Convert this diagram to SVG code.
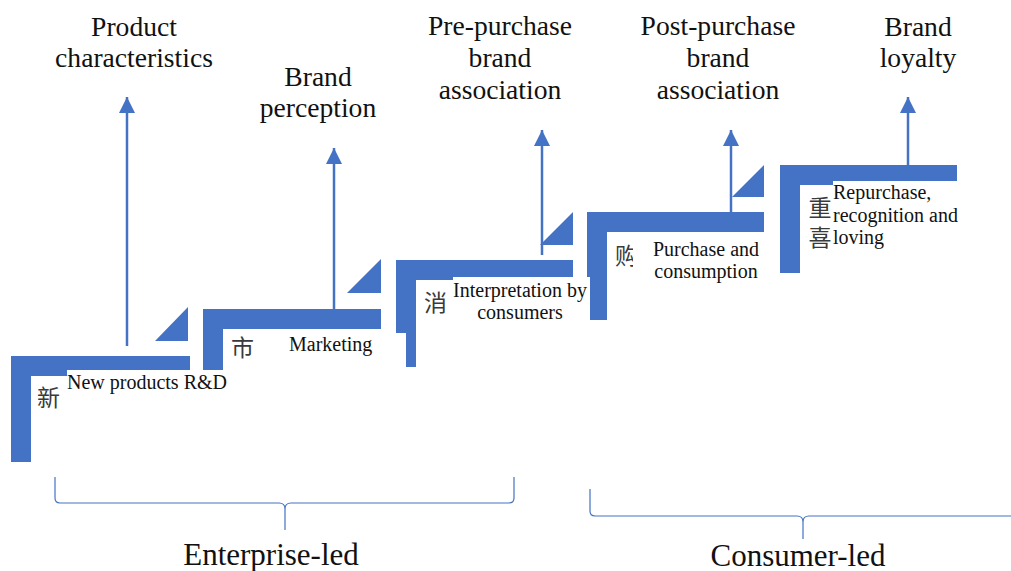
<svg xmlns="http://www.w3.org/2000/svg" width="1011" height="571" viewBox="0 0 1011 571">
  <style>
    .bar { fill: #4472C4; }
    .mask { fill: #FFFFFF; }
    .en { font-family: "Liberation Serif", "Times New Roman", serif; fill: #111111; }
    .small { font-size: 20px; }
    .head { font-size: 27.6px; text-anchor: middle; }
    .group { font-size: 31px; text-anchor: middle; }
    .zh { font-family: "Noto Sans CJK SC", "Noto Sans", sans-serif; font-size: 23px; fill: #3a3a3a; }
    .zh-col { writing-mode: vertical-rl; letter-spacing: 7px; }
    .link { stroke: #4472C4; stroke-width: 2.5; fill: none; }
    .brace { stroke: #4472C4; stroke-width: 1.2; fill: none; }
  </style>
  <defs>
    <marker id="arrow" markerUnits="userSpaceOnUse" markerWidth="16" markerHeight="16" viewBox="0 0 16 16" refX="16" refY="8" orient="auto">
      <path d="M0,0 L16,8 L0,16 Z" fill="#4472C4"/>
    </marker>
  </defs>

  <rect width="1011" height="571" fill="#FFFFFF"/>

  <!-- staircase steps, drawn back to front so each text box sits over the next step -->
  <g id="step-repurchase">
    <path class="bar" d="M780,165 H957 V185 H800 V273 H780 Z"/>
    <text class="zh zh-col" x="820" y="196">重喜</text>
    <rect class="mask" x="833" y="181" width="127" height="72"/>
    <text class="en small" x="833" y="199">Repurchase,</text>
    <text class="en small" x="833" y="222">recognition and</text>
    <text class="en small" x="833" y="244">loving</text>
  </g>

  <g id="step-purchase">
    <path class="bar" d="M587,212 H764 V232 H607 V320 H587 Z"/>
    <path class="bar" d="M732,197 L764,165 V197 Z"/>
    <text class="zh" x="615" y="264">购</text>
    <rect class="mask" x="633" y="236" width="133" height="50"/>
    <text class="en small" x="706" y="256" text-anchor="middle">Purchase and</text>
    <text class="en small" x="706" y="278" text-anchor="middle">consumption</text>
  </g>

  <g id="step-interpretation">
    <path class="bar" d="M396,260 H573 V280 H416 V367 H396 Z"/>
    <path class="bar" d="M540,245 L573,212 V245 Z"/>
    <text class="zh" x="424" y="311">消</text>
    <rect class="mask" x="453" y="277" width="137" height="48"/>
    <text class="en small" x="520" y="297" text-anchor="middle">Interpretation by</text>
    <text class="en small" x="520" y="319" text-anchor="middle">consumers</text>
  </g>

  <g id="step-marketing">
    <path class="bar" d="M203,309 H381 V329 H223 V416 H203 Z"/>
    <path class="bar" d="M347,293 L381,259 V293 Z"/>
    <text class="zh" x="231" y="356">市</text>
    <rect class="mask" x="258" y="333" width="148" height="40"/>
    <text class="en small" x="289" y="351">Marketing</text>
  </g>

  <g id="step-rd">
    <path class="bar" d="M11,356 H190 V376 H31 V462 H11 Z"/>
    <path class="bar" d="M155,341 L188,307 V341 Z"/>
    <text class="zh" x="37" y="406">新</text>
    <rect class="mask" x="67" y="370" width="166" height="50"/>
    <text class="en small" x="67" y="389">New products R&amp;D</text>
  </g>

  <!-- outcome labels above each step -->
  <g id="label-product">
    <text class="en head" x="134" y="36">Product</text>
    <text class="en head" x="134" y="67">characteristics</text>
  </g>
  <g id="label-perception">
    <text class="en head" x="318" y="86">Brand</text>
    <text class="en head" x="318" y="117">perception</text>
  </g>
  <g id="label-pre">
    <text class="en head" x="500" y="35">Pre-purchase</text>
    <text class="en head" x="500" y="67">brand</text>
    <text class="en head" x="500" y="99">association</text>
  </g>
  <g id="label-post">
    <text class="en head" x="718" y="35">Post-purchase</text>
    <text class="en head" x="718" y="67">brand</text>
    <text class="en head" x="718" y="99">association</text>
  </g>
  <g id="label-loyalty">
    <text class="en head" x="918" y="36">Brand</text>
    <text class="en head" x="918" y="67">loyalty</text>
  </g>

  <!-- phase groupings -->
  <g id="phase-enterprise">
    <path class="brace" d="M55,477 V498 Q55,503 60,503 H279 Q285,503 285,509 V530 M285,509 Q285,503 291,503 H509 Q514,503 514,498 V477"/>
    <text class="en group" x="271" y="565">Enterprise-led</text>
  </g>
  <g id="phase-consumer">
    <path class="brace" d="M590,489 V511 Q590,516 595,516 H797 Q803,516 803,522 V539 M803,522 Q803,516 809,516 H1011"/>
    <text class="en group" x="798" y="566">Consumer-led</text>
  </g>

  <!-- arrows from each step up to its outcome -->
  <g id="connectors">
    <line class="link" x1="127" y1="346" x2="127" y2="97" marker-end="url(#arrow)"/>
    <line class="link" x1="334" y1="309" x2="334" y2="148" marker-end="url(#arrow)"/>
    <line class="link" x1="542" y1="255" x2="542" y2="130" marker-end="url(#arrow)"/>
    <line class="link" x1="731" y1="212" x2="731" y2="130" marker-end="url(#arrow)"/>
    <line class="link" x1="908" y1="165" x2="908" y2="97" marker-end="url(#arrow)"/>
  </g>
</svg>
